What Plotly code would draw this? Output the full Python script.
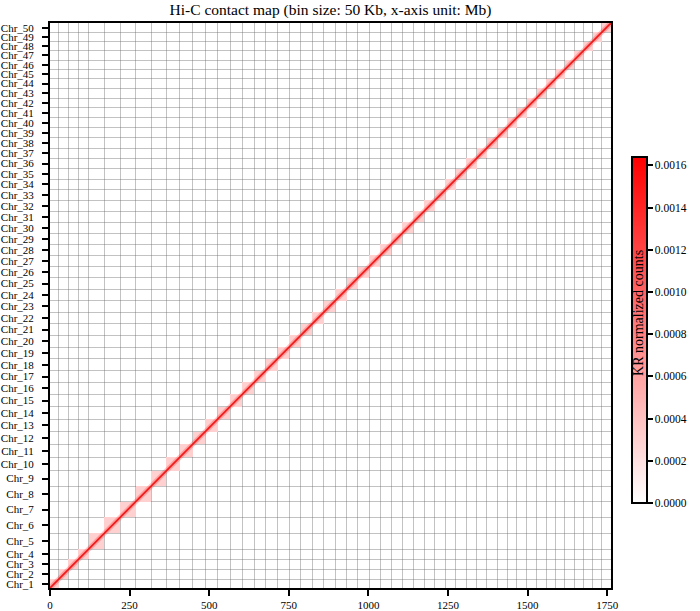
import plotly.graph_objs as go

chrom_names = ['Chr_%d' % i for i in range(1, 51)]
chrom_sizes = [27, 31, 31, 32, 49, 50, 49, 49, 47, 43,
               40.5, 39.5, 38.5, 39.5, 37.5, 37.5, 37, 37, 36.5, 36.5,
               36, 36, 36, 35.5, 35.5, 35, 35, 35, 34.5, 34.5,
               34, 34, 33, 33, 32.5, 32.5, 32, 32, 31.5, 31,
               31, 30.5, 30, 30, 29.5, 29, 29, 28.5, 29, 29]

intra_value = 0.0003      # KR normalized count inside a chromosome block
z_max = 0.00164
cbar_ticks = [0, 0.0002, 0.0004, 0.0006, 0.0008, 0.0010, 0.0012, 0.0014, 0.0016]
x_ticks = [0, 250, 500, 750, 1000, 1250, 1500, 1750]

font_family = 'Liberation Serif'

edges = [0]
for s in chrom_sizes:
    edges.append(edges[-1] + s)
total = edges[-1]
centers = [(edges[i] + edges[i + 1]) / 2 for i in range(len(chrom_sizes))]

n = len(chrom_sizes)
z = [[intra_value if i == j else None for j in range(n)] for i in range(n)]

fig = go.Figure()
fig.add_trace(go.Heatmap(
    x=edges, y=edges, z=z,
    zmin=0, zmax=z_max,
    colorscale=[[0, 'white'], [1, 'red']],
    hoverongaps=False,
    colorbar=dict(
        x=1.037, xanchor='left', xpad=0, ypad=0,
        y=0.4566, yanchor='middle',
        thickness=15, thicknessmode='pixels',
        len=346, lenmode='pixels',
        outlinewidth=2, outlinecolor='black',
        ticks='outside', ticklen=5, tickwidth=2, tickcolor='black',
        tickvals=cbar_ticks, ticktext=['%.4f' % v for v in cbar_ticks],
        tickfont=dict(family=font_family, size=11.5, color='black'))))

# diagonal: soft halo + red core
fig.add_trace(go.Scatter(x=[0, total], y=[0, total], mode='lines',
                         line=dict(color='rgba(255,40,40,0.28)', width=5),
                         hoverinfo='skip', showlegend=False))
fig.add_trace(go.Scatter(x=[0, total], y=[0, total], mode='lines',
                         line=dict(color='rgba(240,20,20,0.95)', width=1.8),
                         hoverinfo='skip', showlegend=False))

grid = dict(tickvals=edges[1:-1], showgrid=True,
            gridcolor='rgba(110,110,110,0.42)', gridwidth=1, ticks='')

fig.update_xaxes(range=[0, total], tickvals=x_ticks, showgrid=False, zeroline=False,
                 showline=True, linewidth=2, linecolor='black', mirror=True,
                 ticks='outside', ticklen=6, tickwidth=2, tickcolor='black',
                 tickfont=dict(family=font_family, size=11, color='black'),
                 minor=grid, automargin=False)
fig.update_yaxes(range=[0, total], tickvals=centers, ticktext=chrom_names,
                 showgrid=False, zeroline=False,
                 showline=True, linewidth=2, linecolor='black', mirror=True,
                 ticks='outside', ticklen=6, tickwidth=2, tickcolor='black',
                 ticklabelstandoff=6,
                 tickfont=dict(family=font_family, size=11, color='black'),
                 minor=grid, automargin=False)

fig.add_annotation(text='KR normalized counts', xref='paper', yref='paper',
                   x=1.05, y=0.487, xanchor='center', yanchor='middle',
                   textangle=-90, showarrow=False,
                   font=dict(family=font_family, size=14, color='black'))

fig.update_layout(
    title=dict(text='Hi-C contact map (bin size: 50 Kb, x-axis unit: Mb)',
               x=0.5, xref='paper', y=0.985, yanchor='middle',
               font=dict(family=font_family, size=15.5, color='black')),
    width=700, height=611, autosize=False,
    margin=dict(l=50, r=84, t=23, b=23),
    plot_bgcolor='white', paper_bgcolor='white',
    showlegend=False)

# page body has a default 8px margin; drop it so the figure sits at the corner
fig.write_html("out.html", config={'displayModeBar': False},
               post_script="document.body.style.margin='0';")
